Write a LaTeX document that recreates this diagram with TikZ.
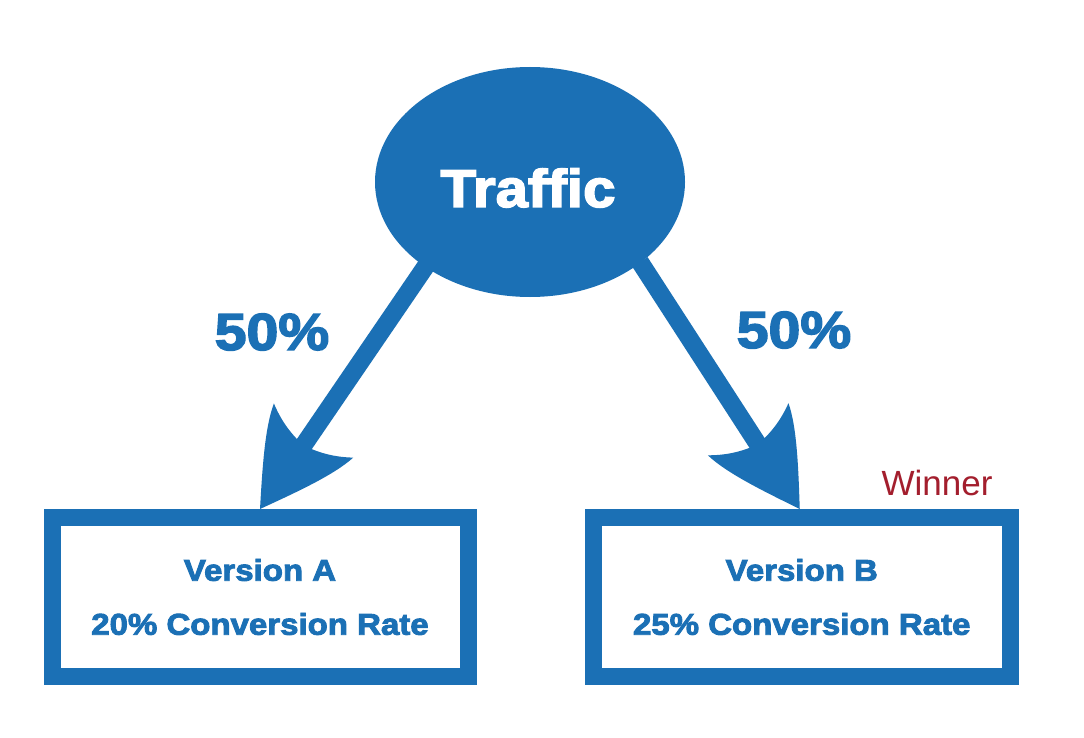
\documentclass[tikz,border=0pt]{standalone}
\usepackage{fontspec}
\setmainfont{Liberation Sans}
\newfontfamily\heavyfont{Liberation Sans Bold}[FakeBold=3,FakeStretch=1.1]
\usetikzlibrary{shapes.geometric,calc}
\definecolor{abBlue}{RGB}{27,112,181}
\definecolor{winRed}{RGB}{163,30,45}
\newcommand\boxfont{\heavyfont\fontsize{30}{54}\selectfont}
\newcommand\pctfont{\heavyfont\fontsize{52}{60}\selectfont}
\newcommand\trafficfont{\heavyfont\fontsize{53}{60}\selectfont}
\newcommand\winfont{\fontsize{35}{40}\selectfont}
\tikzset{
  shaft/.style={draw=abBlue, line width=18pt},
  vbox/.style={draw=abBlue, line width=17pt, minimum width=416pt, minimum height=159pt,
    inner sep=0pt, align=center, text=abBlue, font=\boxfont},
  pct/.style={text=abBlue, font=\pctfont, inner sep=0pt},
  arrowhd/.pic={
    \fill[abBlue] (0,0) .. controls (-35,-21) and (-70,-42) .. (-95,-48)
      .. controls (-86,-34) and (-80,-20) .. (-77,0)
      .. controls (-80,20) and (-86,34) .. (-95,48)
      .. controls (-70,42) and (-35,21) .. (0,0) -- cycle;
  }
}
\begin{document}
\begin{tikzpicture}[x=1pt,y=1pt]
\fill[white] (0,0) rectangle (1084,-738);
\useasboundingbox (0,0) rectangle (1084,-738);

\node[ellipse, fill=abBlue, minimum width=310pt, minimum height=230pt, inner sep=0pt] (traffic) at (530,-182) {};
\node[text=white, font=\trafficfont, inner sep=0pt] (trafficlabel) at (528,-188) {Traffic};

\node[vbox] (A) at (260,-597) {Version A\\20\% Conversion Rate};
\node[vbox, minimum width=417.5pt] (B) at (801.75,-597) {Version B\\25\% Conversion Rate};

\coordinate (sA) at ($(traffic.center)+(-100,-78)$);
\coordinate (tA) at (A.north);
\coordinate (sB) at ($(traffic.center)+(110,-80)$);
\coordinate (tB) at ([xshift=-2pt]B.north);

\draw[shaft] (sA) -- ($(tA)!70pt!(sA)$);
\path (sA) -- (tA) pic[pos=1, sloped, allow upside down]{arrowhd};
\draw[shaft] (sB) -- ($(tB)!70pt!(sB)$);
\path (sB) -- (tB) pic[pos=1, sloped, allow upside down]{arrowhd};

\node[pct] (pA) at (272,-332) {50\%};
\node[pct] (pB) at (794,-330) {50\%};

\node[text=winRed, font=\winfont, inner sep=0pt] (win) at (937,-482.5) {Winner};
\end{tikzpicture}
\end{document}
